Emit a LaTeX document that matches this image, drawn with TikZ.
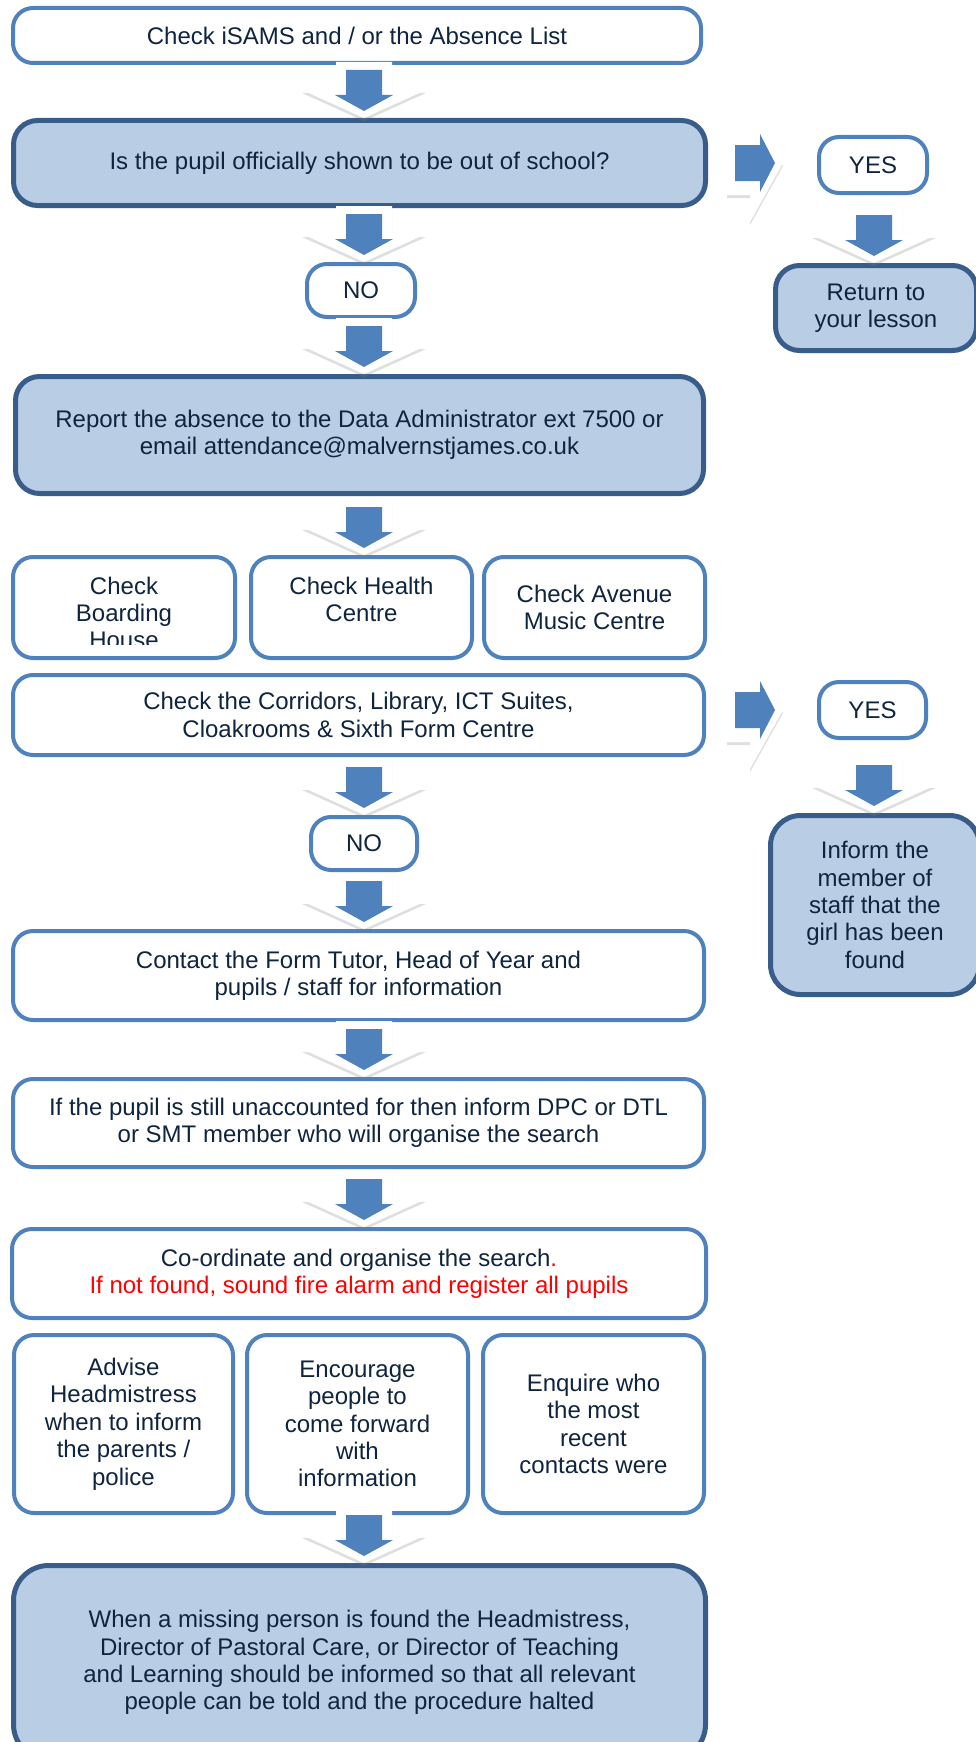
\documentclass[tikz,border=0pt]{standalone}
\usepackage{fontspec}
\setmainfont{Liberation Sans}
\usetikzlibrary{shadows}
\definecolor{boxline}{HTML}{4F81BD}
\definecolor{darkline}{HTML}{385D8A}
\definecolor{boxfill}{HTML}{B9CDE5}
\definecolor{navy}{HTML}{0F243E}
\begin{document}
\begin{tikzpicture}[x=1pt, y=-1pt,
	every node/.style={font=\fontsize{24}{27.4}\selectfont, text=navy, align=center, inner sep=0pt},
	plain/.style={draw=boxline, line width=4pt, rounded corners=20pt, fill=white},
	shaded/.style={draw=darkline, line width=5pt, rounded corners=24pt, fill=boxfill},
	outline/.style={fill=white, drop shadow={shadow xshift=0pt, shadow yshift=-3pt, opacity=.25}},
	core/.style={fill=boxline},
	dnarrow/.pic={
		\path[outline] (-28,-56) -- (28,-56) -- (28,-28) -- (62,-28) -- (0,0) -- (-62,-28) -- (-28,-28) -- cycle;
		\path[core] (-18,-48) -- (18,-48) -- (18,-23) -- (29,-23) -- (0,-7) -- (-29,-23) -- (-18,-23) -- cycle;},
	rtarrow/.pic={
		\path[outline] (-56,-32) -- (-33,-32) -- (-33,-59) -- (0,0) -- (-33,59) -- (-33,32) -- (-56,32) -- cycle;
		\path[core] (-48,-18) -- (-23,-18) -- (-23,-29) -- (-8,0) -- (-23,29) -- (-23,18) -- (-48,18) -- cycle;}]
	\useasboundingbox (0,0) rectangle (976,1742);

	\node[plain, minimum width=688pt, minimum height=55pt] (chk) at (357,35.5) {Check iSAMS and / or the Absence List};
	\node[shaded, minimum width=692pt, minimum height=85pt] (off) at (359.5,163) {Is the pupil officially shown to be out of school?};
	\node[plain, minimum width=108pt, minimum height=53pt] (no1) at (361,290.5) {NO};
	\node[shaded, minimum width=688pt, minimum height=117pt] (rep) at (359.5,435)
		{Report the absence to the Data Administrator ext 7500 or\\email attendance@malvernstjames.co.uk};

	\node[plain, minimum width=222pt, minimum height=101pt] (brd) at (124,607.5) {};
	\node[plain, minimum width=221pt, minimum height=101pt] (hlt) at (361.5,607.5) {};
	\node[plain, minimum width=221pt, minimum height=101pt] (avn) at (594.5,607.5) {Check Avenue\\Music Centre};
	\begin{scope}
		\clip ([yshift=15.5pt]brd.south west) rectangle (brd.north east);
		\node[anchor=north] (brdtxt) at ([yshift=-21.5pt]brd.north) {Check\\Boarding\\House};
	\end{scope}
	\node[anchor=north] (hlttxt) at ([yshift=-21.5pt]hlt.north) {Check Health\\Centre};

	\node[plain, minimum width=691pt, minimum height=80pt] (cor) at (358.5,715)
		{Check the Corridors, Library, ICT Suites,\\Cloakrooms \& Sixth Form Centre};
	\node[plain, minimum width=106pt, minimum height=53pt] (no2) at (364,843.5) {NO};
	\node[plain, minimum width=691pt, minimum height=89pt] (con) at (358.5,975.5)
		{Contact the Form Tutor, Head of Year and\\pupils / staff for information};
	\node[plain, minimum width=691pt, minimum height=88pt] (inf) at (358.5,1123)
		{If the pupil is still unaccounted for then inform DPC or DTL\\or SMT member who will organise the search};
	\node[plain, minimum width=694pt, minimum height=89pt] (coo) at (359,1273.5)
		{Co-ordinate and organise the search{\color{red}.}\\{\color{red}If not found, sound fire alarm and register all pupils}};

	\node[plain, minimum width=219pt, minimum height=178pt] (adv) at (123.5,1424)
		{Advise\\Headmistress\\when to inform\\the parents /\\police};
	\node[plain, minimum width=221pt, minimum height=178pt] (enc) at (357.5,1424)
		{Encourage\\people to\\come forward\\with\\information};
	\node[plain, minimum width=221pt, minimum height=178pt] (enq) at (593.5,1424)
		{Enquire who\\the most\\recent\\contacts were};
	\node[shaded, rounded corners=35pt, minimum width=692pt, minimum height=194pt] (fin) at (359.5,1662.5)
		{When a missing person is found the Headmistress,\\Director of Pastoral Care, or Director of Teaching\\and Learning should be informed so that all relevant\\people can be told and the procedure halted};

	\node[plain, minimum width=108pt, minimum height=56pt] (yes1) at (873,165) {YES};
	\node[shaded, minimum width=201pt, minimum height=85pt] (ret) at (876,308) {Return to\\your lesson};
	\node[plain, minimum width=107pt, minimum height=56pt] (yes2) at (872.5,710) {YES};
	\node[shaded, rounded corners=30pt, minimum width=209pt, minimum height=179pt] (fnd) at (875,905)
		{Inform the\\member of\\staff that the\\girl has been\\found};

	\coordinate (spine) at (364,0);
	\coordinate (side) at (874,0);
	\coordinate (gap) at (783,0);
	\pic at (off.north -| spine) {dnarrow};
	\pic at (no1.north -| spine) {dnarrow};
	\pic at (rep.north -| spine) {dnarrow};
	\pic at (hlt.north -| spine) {dnarrow};
	\pic at (no2.north -| spine) {dnarrow};
	\pic at (con.north -| spine) {dnarrow};
	\pic at (inf.north -| spine) {dnarrow};
	\pic at (coo.north -| spine) {dnarrow};
	\pic at (fin.north -| spine) {dnarrow};
	\pic at (ret.north -| side) {dnarrow};
	\pic at (fnd.north -| side) {dnarrow};
	\pic at (off.east -| gap) {rtarrow};
	\pic at (yes2.west -| gap) {rtarrow};
\end{tikzpicture}
\end{document}
